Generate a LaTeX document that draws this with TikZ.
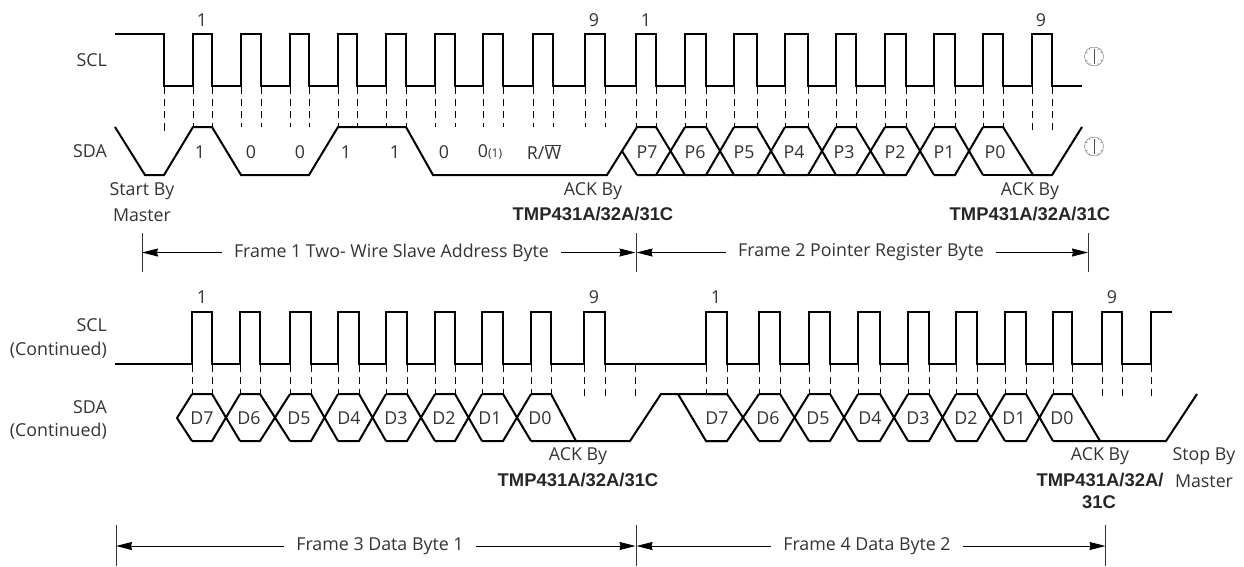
\documentclass[tikz,border=0pt]{standalone}
\usepackage{fontspec}
\setmainfont{Open Sans}
\newfontfamily\boldlabel[Scale=1]{Liberation Sans}
\usetikzlibrary{arrows.meta}

\tikzset{
    wave/.style={line width=2pt, line join=miter},
    guide/.style={line width=0.8pt, dash pattern=on 7pt off 5pt},
    txt/.style={inner sep=0pt, font=\fontsize{17.8}{20}\selectfont, text=black!80},
    tmp/.style={inner sep=0pt, font=\fontsize{18.4}{20}\selectfont\boldlabel\bfseries, text=black!85},
    limit/.style={line width=1pt, black!80},
    span/.style={line width=0.9pt, -{Stealth[length=16pt,width=8pt,inset=1pt]}, shorten <=12pt},
    dial/.style={line width=0.4pt, black!60}
}

% clock edge symbol
\newcommand{\clockmark}[2]{
    \draw[dial] (#1,#2) circle (9.5);
    \draw[line width=0.9pt, black!70] (#1,#2-7.5) -- (#1,#2+7.5);
    \foreach \a in {-150,-120,-60,-30,30,60,120,150}
        \draw[dial] (#1,#2) ++(\a:9.5) -- ++(\a:-2);
}

\begin{document}
\begin{tikzpicture}[x=1pt, y=-1pt]
    \useasboundingbox (0,0) rectangle (1244,566);

    % SCL frames 1 and 2
    \draw[wave] (115,34) -- (164,34) -- (164,86)
        \foreach \r/\f in {193/212,241/261,290/309,338/357,386/406,435/455,483/503,533/553,585/605,636/656,685/706,734/757,785/808,836/856,885/906,934/955,983/1003,1032/1052}
            { -- (\r,86) -- (\r,34) -- (\f,34) -- (\f,86) }
        -- (1082,86);

    % SDA frame 1
    \draw[wave] (115,127) -- (145,175) -- (164,175) -- (193,127) -- (212,127) -- (241,175)
        -- (309,175) -- (338,127) -- (406,127) -- (433,175) -- (607,175) -- (637,127);

    % SDA frame 2
    \draw[wave] (622,151) -- (637,175);
    \foreach \a/\b/\c/\d in {637/656/685/706,685/706/734/757,734/757/785/808,785/808/836/856,836/856/885/906,885/906/934/955,934/955/983/1003}{
        \draw[wave] (\a,127) -- (\b,127) -- (\c,175);
        \draw[wave] (\a,175) -- (\b,175) -- (\c,127);
    }
    \draw[wave] (706,175) -- (734,175) (757,175) -- (785,175) (808,175) -- (836,175) (856,175) -- (885,175);
    \draw[wave] (656,175) -- (685,175);
    \draw[wave] (983,127) -- (1003,127) -- (1033,175) -- (1052,175) -- (1082,127);
    \draw[wave] (983,175) -- (1033,175);

    % guides frames 1 and 2
    \foreach \x in {164,193,212,241,261,290,309,338,357,386,406,435,455,483,503,533,553,585,605,636,656,685,706,734,757,785,808,836,856,885,906,934,955,983,1003}
        \draw[guide] (\x,87) -- (\x,127);
    \draw[guide] (164,127) -- (164,131);
    \draw[guide] (1032,87) -- (1032,131);
    \draw[guide] (1052,87) -- (1052,131);

    % SCL frames 3 and 4
    \draw[wave] (115,364)
        \foreach \r/\f in {192/212,240/260,290/311,338/359,386/407,435/455,482/503,531/551,584/605,706/727,759/780,809/830,858/880,908/929,956/977,1005/1026,1053/1072,1102/1122}
            { -- (\r,364) -- (\r,312) -- (\f,312) -- (\f,364) }
        -- (1151,364) -- (1151,312) -- (1172,312);

    % SDA frame 3
    \draw[wave] (192,394) -- (177,418) -- (192,441);
    \foreach \a/\b/\c/\d in {192/212/240/260,240/260/290/311,290/311/338/359,338/359/386/407,386/407/435/455,435/455/482/503,482/503/531/551}{
        \draw[wave] (\a,394) -- (\b,394) -- (\c,441);
        \draw[wave] (\a,441) -- (\b,441) -- (\c,394);
    }
    \draw[wave] (531,394) -- (551,394) -- (576,441);
    \draw[wave] (531,441) -- (630,441) -- (661,394) -- (727,394);

    % SDA frame 4
    \draw[wave] (678,394) -- (706,441) -- (727,441);
    \foreach \a/\b/\c/\d in {706/727/759/780,759/780/809/830,809/830/858/880,858/880/908/929,908/929/956/977,956/977/1005/1026,1005/1026/1053/1072}{
        \draw[wave] (\a,394) -- (\b,394) -- (\c,441);
        \draw[wave] (\a,441) -- (\b,441) -- (\c,394);
    }
    \draw[wave] (1053,394) -- (1072,394) -- (1100,441);
    \draw[wave] (1053,441) -- (1166,441) -- (1197,394);

    % guides frames 3 and 4
    \foreach \x in {192,212,240,260,290,311,338,359,386,407,435,455,482,503,531,551,706,727,759,780,809,830,858,880,908,929,956,977,1005,1026,1053,1072}
        \draw[guide] (\x,365) -- (\x,394);
    \foreach \x in {584,605,635,1102,1122,1151}
        \draw[guide] (\x,365) -- (\x,398);

    % clock edge symbols
    \clockmark{1094}{56.5}
    \clockmark{1094}{146.5}

    % clock counts
    \node[txt] (cntA) at (202,20) {1};
    \node[txt] (cntB) at (594,20) {9};
    \node[txt] (cntC) at (646,20) {1};
    \node[txt] (cntD) at (1041,20) {9};
    \node[txt] (cntE) at (202,297) {1};
    \node[txt] (cntF) at (594,297) {9};
    \node[txt] (cntG) at (716,297) {1};
    \node[txt] (cntH) at (1112,297) {9};

    % signal names
    \node[txt, anchor=east] (sclA) at (107,60) {SCL};
    \node[txt, anchor=east] (sdaA) at (107,151) {SDA};
    \node[txt, anchor=east] (sclB) at (107,325) {SCL};
    \node[txt, anchor=east] (sclC) at (107,350) {(Continued)};
    \node[txt, anchor=east] (sdaB) at (107,407) {SDA};
    \node[txt, anchor=east] (sdaC) at (107,431) {(Continued)};

    % address bits
    \node[txt] (bitA) at (200,152) {1};
    \node[txt] (bitB) at (251,152) {0};
    \node[txt] (bitC) at (300,152) {0};
    \node[txt] (bitD) at (346,152) {1};
    \node[txt] (bitE) at (395,152) {1};
    \node[txt] (bitF) at (444,152) {0};
    \node[txt] (bitG) at (490,152) {0{\fontsize{12}{12}\selectfont(1)}};
    \node[txt] (bitH) at (544,152) {R/$\overline{\mbox{W}}$};

    % data bits
    \foreach \t/\x in {P7/647,P6/695,P5/744,P4/794,P3/844,P2/895,P1/944,P0/995}
        \node[txt] (bit\t) at (\x,152) {\t};
    \foreach \t/\x in {D7/202,D6/249,D5/299,D4/349,D3/396,D2/444,D1/490,D0/540}
        \node[txt] (one\t) at (\x,418) {\t};
    \foreach \t/\x in {D7/717,D6/768,D5/818,D4/870,D3/918,D2/966,D1/1014,D0/1062}
        \node[txt] (two\t) at (\x,418) {\t};

    % notes under SDA
    \node[txt] (startA) at (142,191) {Start By};
    \node[txt] (startB) at (142,215) {Master};
    \node[txt] (ackA) at (593,191) {ACK By};
    \node[tmp] (tmpA) at (593,214) {TMP431A/32A/31C};
    \node[txt] (ackB) at (1030,191) {ACK By};
    \node[tmp] (tmpB) at (1030,214) {TMP431A/32A/31C};
    \node[txt] (ackC) at (578,456) {ACK By};
    \node[tmp] (tmpC) at (578,480) {TMP431A/32A/31C};
    \node[txt] (ackD) at (1100,456) {ACK By};
    \node[tmp] (tmpD) at (1100,480) {TMP431A/32A/};
    \node[tmp] (tmpE) at (1099,502) {31C};
    \node[txt] (stopA) at (1204,456) {Stop By};
    \node[txt] (stopB) at (1204,481) {Master};

    % frame limits
    \draw[limit] (142,233) -- (142,272);
    \draw[limit] (636,233) -- (636,272);
    \draw[limit] (1088,233) -- (1088,272);
    \draw[limit] (116,525) -- (116,566);
    \draw[limit] (636,525) -- (636,566);
    \draw[limit] (1105.5,525) -- (1105.5,566);

    % frame spans
    \node[txt] (frmA) at (391.5,252.5) {Frame 1 Two- Wire Slave Address Byte};
    \node[txt] (frmB) at (861,252.5) {Frame 2 Pointer Register Byte};
    \node[txt] (frmC) at (380,546) {Frame 3 Data Byte 1};
    \node[txt] (frmD) at (867,546) {Frame 4 Data Byte 2};
    \coordinate (limA) at (142,252.5);
    \coordinate (limB) at (635.5,252.5);
    \coordinate (limC) at (636.5,252.5);
    \coordinate (limD) at (1088,252.5);
    \coordinate (limE) at (116,546);
    \coordinate (limF) at (635.5,546);
    \coordinate (limG) at (636.5,546);
    \coordinate (limH) at (1105.5,546);
    \draw[span] (frmA) -- (limA);
    \draw[span] (frmA) -- (limB);
    \draw[span] (frmB) -- (limC);
    \draw[span] (frmB) -- (limD);
    \draw[span] (frmC) -- (limE);
    \draw[span] (frmC) -- (limF);
    \draw[span] (frmD) -- (limG);
    \draw[span] (frmD) -- (limH);
\end{tikzpicture}
\end{document}
